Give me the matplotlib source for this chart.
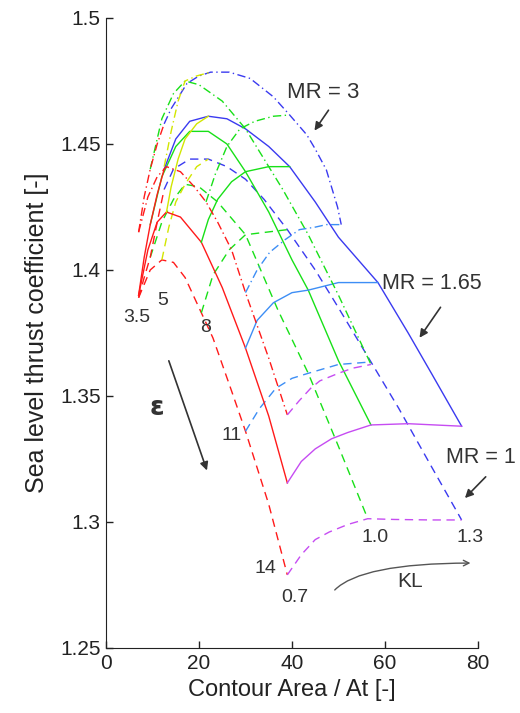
import matplotlib
matplotlib.use("Agg")
import matplotlib.pyplot as plt

plt.rcParams['font.family'] = ['Liberation Sans', 'DejaVu Sans']

# line colours: constant KL lines and constant epsilon lines
kl_colors = {0.7: '#ff1a1a', 1.0: '#18e018', 1.3: '#3a3af0'}
eps_colors = {3.5: '#ff1a1a', 5: '#d2e600', 8: '#18e018', 11: '#3d8ef5', 14: '#c64cf2'}

# MR = 1 (dashed)
mr1_kl = {
    0.7: ([7, 9.5, 12, 14.5, 17, 20.5, 23, 27, 30, 35, 39],
          [1.389, 1.400, 1.404, 1.403, 1.397, 1.383, 1.373, 1.352, 1.336, 1.307, 1.279]),
    1.0: ([9.5, 12, 14.5, 17, 20, 24, 30, 37, 43.5, 50, 56.3],
          [1.405, 1.419, 1.428, 1.434, 1.433, 1.427, 1.414, 1.384, 1.359, 1.330, 1.3013]),
    1.3: ([12.5, 14.5, 18, 22, 26, 30, 34, 39, 45, 50, 57, 63, 70, 76.5],
          [1.432, 1.440, 1.444, 1.444, 1.441, 1.436, 1.428, 1.416, 1.400, 1.385, 1.3635, 1.345, 1.322, 1.3008]),
}
mr1_eps = {
    3.5: ([7, 8.2, 9.5, 11, 12.5], [1.389, 1.397, 1.405, 1.419, 1.432]),
    5: ([12, 13.5, 15, 17, 19.5, 22], [1.404, 1.417, 1.427, 1.434, 1.441, 1.444]),
    8: ([20.5, 23, 26.5, 30, 34.5, 39], [1.383, 1.398, 1.408, 1.414, 1.415, 1.416]),
    11: ([30, 33, 36.5, 40, 43.5, 50, 57], [1.336, 1.345, 1.353, 1.357, 1.359, 1.3625, 1.3635]),
    14: ([39, 42, 45, 48, 52, 56.3, 62, 70, 76.5],
         [1.279, 1.287, 1.293, 1.296, 1.299, 1.3013, 1.301, 1.3008, 1.3008]),
}

# MR = 1.65 (solid)
mr165_kl = {
    0.7: ([7, 9, 11, 13, 16, 20.5, 25, 30, 35, 39],
          [1.390, 1.408, 1.419, 1.423, 1.421, 1.411, 1.393, 1.369, 1.342, 1.3155]),
    1.0: ([9.5, 12, 15, 18, 22, 26, 30, 35, 40, 43.5, 50, 57],
          [1.418, 1.437, 1.449, 1.455, 1.455, 1.450, 1.439, 1.423, 1.404, 1.392, 1.364, 1.3385]),
    1.3: ([12.5, 15, 18, 22, 26, 30, 35, 39.5, 45, 50, 58.5, 65, 70, 76.5],
          [1.440, 1.452, 1.459, 1.461, 1.460, 1.456, 1.449, 1.441, 1.427, 1.413, 1.395, 1.375, 1.359, 1.338]),
}
mr165_eps = {
    3.5: ([7, 8.2, 9.5, 11, 12.5], [1.390, 1.405, 1.418, 1.430, 1.440]),
    5: ([13, 14, 15.5, 17, 19.5, 22], [1.423, 1.433, 1.444, 1.452, 1.458, 1.461]),
    8: ([20.5, 22, 24, 27, 30, 35, 39.5], [1.411, 1.420, 1.428, 1.435, 1.439, 1.441, 1.441]),
    11: ([30, 32.5, 36, 40, 43.5, 50, 58.5], [1.369, 1.380, 1.387, 1.391, 1.392, 1.395, 1.395]),
    14: ([39, 42, 45, 48.5, 52, 57, 65, 76.5],
         [1.3155, 1.324, 1.329, 1.333, 1.3355, 1.3385, 1.339, 1.338]),
}

# MR = 3 (dash-dot)
mr3_kl = {
    0.7: ([7, 9, 11, 13, 16, 19, 21.5, 24, 27, 30, 35, 39],
          [1.415, 1.429, 1.437, 1.441, 1.439, 1.433, 1.427, 1.419, 1.408, 1.391, 1.365, 1.3425]),
    1.0: ([9.5, 12, 14.5, 17, 20, 25, 30, 34, 38, 43.5, 50, 57],
          [1.440, 1.460, 1.470, 1.475, 1.4735, 1.467, 1.456, 1.444, 1.432, 1.414, 1.390, 1.3625]),
    1.3: ([12.5, 14, 17.4, 20, 22.5, 26.5, 31, 36, 39.5, 43.2, 45, 47.4, 49.8, 50.6],
          [1.458, 1.464, 1.474, 1.477, 1.4785, 1.4785, 1.476, 1.4687, 1.4615, 1.4536, 1.448, 1.4397, 1.425, 1.418]),
}
mr3_eps = {
    3.5: ([7, 8.2, 9.5, 11, 12.5], [1.415, 1.429, 1.440, 1.450, 1.458]),
    5: ([12.5, 14, 15.5, 17, 19.5, 22.5], [1.441, 1.455, 1.467, 1.475, 1.477, 1.4785]),
    8: ([21.5, 23.5, 26, 28.8, 32, 36, 39.5], [1.427, 1.438, 1.449, 1.456, 1.459, 1.461, 1.4615]),
    11: ([30, 32.5, 35.2, 38.5, 41.6, 45, 47.4, 50.6], [1.391, 1.400, 1.407, 1.412, 1.416, 1.417, 1.418, 1.418]),
    14: ([39, 41.5, 44, 46, 50, 53, 57], [1.3425, 1.348, 1.353, 1.356, 1.359, 1.361, 1.3625]),
}

eps_labels = ['3.5', '5', '8', '11', '14']
kl_labels = ['0.7', '1.0', '1.3']

dashed = (0, (6, 4))
dashdot = (0, (6, 2.5, 1, 2.5))

fig = plt.figure(figsize=(5.2, 7.13), dpi=100)
ax = fig.add_axes([0.204, 0.0912, 0.715, 0.8836])

def draw(kl_lines, eps_lines, ls):
    for kl, (x, y) in kl_lines.items():
        ax.plot(x, y, color=kl_colors[kl], ls=ls, lw=1.0)
    for e, (x, y) in eps_lines.items():
        ax.plot(x, y, color=eps_colors[e], ls=ls, lw=1.0)

draw(mr1_kl, mr1_eps, dashed)
draw(mr165_kl, mr165_eps, '-')
# eps = 14 of MR = 3 looks dashed in the picture, the rest dash-dot
draw(mr3_kl, {k: v for k, v in mr3_eps.items() if k != 14}, dashdot)
ax.plot(*mr3_eps[14], color=eps_colors[14], ls=dashed, lw=1.0)

ax.set_xlim(0, 80)
ax.set_ylim(1.25, 1.5)
ax.set_xticks([0, 20, 40, 60, 80])
ax.set_yticks([1.25, 1.3, 1.35, 1.4, 1.45, 1.5])
ax.set_yticklabels(['1.25', '1.3', '1.35', '1.4', '1.45', '1.5'])
ax.spines['top'].set_visible(False)
ax.spines['right'].set_visible(False)
ax.tick_params(direction='in', length=5, width=1, labelsize=15, colors='#222222', pad=4)
for s in ['left', 'bottom']:
    ax.spines[s].set_color('#222222')
ax.set_xlabel('Contour Area / At [-]', fontsize=17, color='#222222', labelpad=5)
ax.set_ylabel('Sea level thrust coefficient [-]', fontsize=18, color='#222222', labelpad=8)

tc = '#333333'
# epsilon labels along the lowest KL = 0.7 line
eps_pos = [(6.7, 1.381), (12.2, 1.388), (21.3, 1.377), (27.1, 1.3345), (34.2, 1.2817)]
for lab, (px, py) in zip(eps_labels, eps_pos):
    ax.text(px, py, lab, fontsize=14, color=tc, ha='center', va='center')
kl_pos = [(40.6, 1.2702), (57.8, 1.294), (78.3, 1.294)]
for lab, (px, py) in zip(kl_labels, kl_pos):
    ax.text(px, py, lab, fontsize=14, color=tc, ha='center', va='center')

arrow = dict(arrowstyle='-|>', color=tc, lw=1.2, mutation_scale=12)
ax.text(46.8, 1.4706, 'MR = 3', fontsize=16, color=tc, ha='center', va='center')
ax.annotate('', xy=(44.5, 1.4544), xytext=(48.2, 1.4643), arrowprops=arrow)
ax.text(70.1, 1.3948, 'MR = 1.65', fontsize=15.5, color=tc, ha='center', va='center')
ax.annotate('', xy=(67.1, 1.3722), xytext=(72.3, 1.3861), arrowprops=arrow)
ax.text(80.6, 1.3254, 'MR = 1', fontsize=15.5, color=tc, ha='center', va='center', clip_on=False)
ax.annotate('', xy=(76.8, 1.3087), xytext=(82.1, 1.3187), arrowprops=arrow, annotation_clip=False)

ax.text(11, 1.3452, 'ε', fontsize=19, fontweight='bold', color=tc, ha='center', va='center',
        family=['DejaVu Sans'])
ax.annotate('', xy=(21.9, 1.3194), xytext=(13.3, 1.365), arrowprops=arrow)

ax.text(65.4, 1.2762, 'KL', fontsize=15, color=tc, ha='center', va='center')
ax.annotate('', xy=(79, 1.2837), xytext=(48.8, 1.2722),
            arrowprops=dict(arrowstyle='->', color='#555555', lw=1.0,
                            connectionstyle='angle3,angleA=50,angleB=0'))

fig.savefig('out.png', dpi=100, facecolor='white')
